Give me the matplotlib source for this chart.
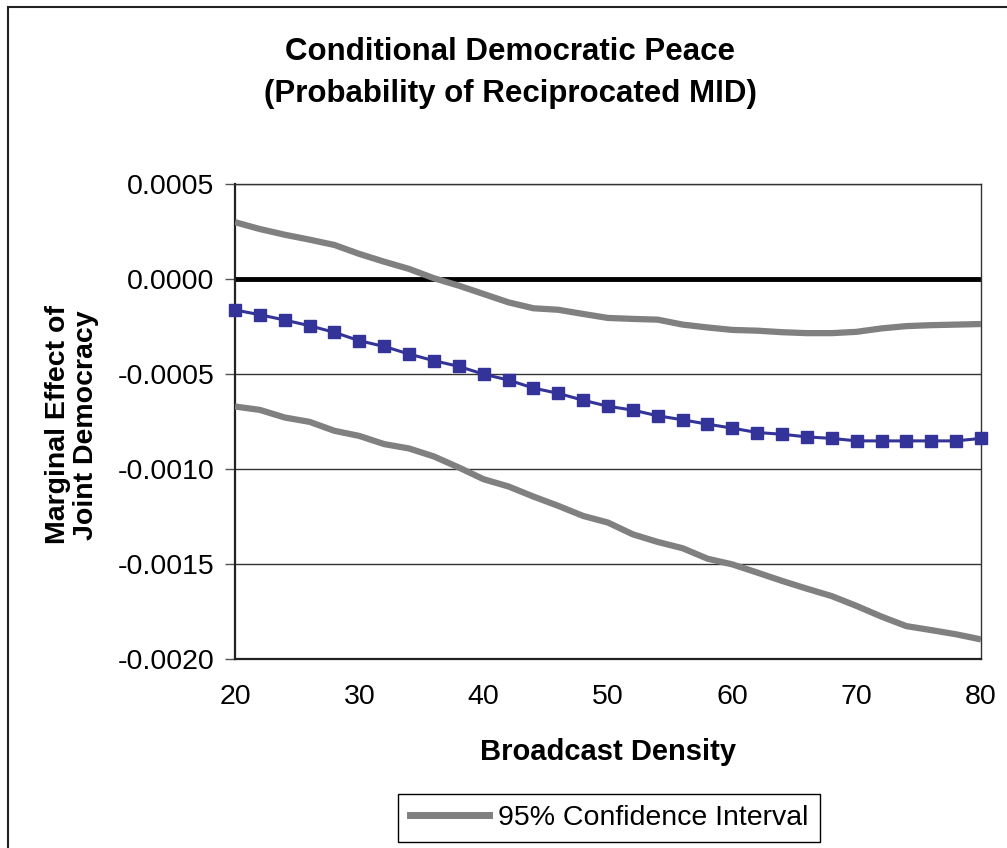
import matplotlib
matplotlib.use("Agg")
import matplotlib.pyplot as plt
import matplotlib.patches as mpatches
from matplotlib.lines import Line2D
from matplotlib.ticker import FormatStrFormatter

plt.rcParams["font.family"] = ["Liberation Sans", "DejaVu Sans"]

# ── Data ───────────────────────────────────────────────────────────────────────
density = list(range(20, 81, 2))

effect = [-0.000163, -0.000188, -0.000216, -0.000246, -0.000281, -0.000325,
          -0.000355, -0.000395, -0.000430, -0.000460, -0.000501, -0.000532,
          -0.000574, -0.000602, -0.000638, -0.000670, -0.000690, -0.000720,
          -0.000741, -0.000764, -0.000785, -0.000808, -0.000817, -0.000831,
          -0.000839, -0.000852, -0.000852, -0.000852, -0.000852, -0.000852,
          -0.000839]

upper = [0.000299, 0.000263, 0.000233, 0.000207, 0.000179, 0.000132,
         0.000091, 0.000053, 0.000004, -0.000035, -0.000079, -0.000123,
         -0.000154, -0.000162, -0.000184, -0.000205, -0.000210, -0.000214,
         -0.000240, -0.000255, -0.000268, -0.000272, -0.000280, -0.000285,
         -0.000285, -0.000278, -0.000260, -0.000248, -0.000243, -0.000240,
         -0.000237]

lower = [-0.000671, -0.000689, -0.000729, -0.000752, -0.000799, -0.000826,
         -0.000869, -0.000892, -0.000934, -0.000992, -0.001054, -0.001092,
         -0.001145, -0.001194, -0.001247, -0.001282, -0.001344, -0.001384,
         -0.001417, -0.001472, -0.001502, -0.001545, -0.001589, -0.001630,
         -0.001669, -0.001721, -0.001777, -0.001827, -0.001848, -0.001870,
         -0.001897]

x_ticks = [20, 30, 40, 50, 60, 70, 80]
y_ticks = [-0.0020, -0.0015, -0.0010, -0.0005, 0.0, 0.0005]

GRAY = "#808080"
BLUE = "#333399"

# ── Figure ─────────────────────────────────────────────────────────────────────
W, H = 1007, 848
fig = plt.figure(figsize=(W / 100, H / 100), dpi=100, facecolor="white")

# outer chart border (runs off right / bottom edges)
fig.patches.append(mpatches.Rectangle((8 / W, -0.1), 1.2, 1 - 7 / H + 0.1,
                                      transform=fig.transFigure, fill=False,
                                      edgecolor="#222222", linewidth=1.5))

ax = fig.add_axes([235 / W, 1 - 659 / H, (981 - 235) / W, (659 - 184) / H])

ax.plot(density, upper, color=GRAY, linewidth=4.5, solid_capstyle="butt", zorder=3)
ax.plot(density, lower, color=GRAY, linewidth=4.5, solid_capstyle="butt", zorder=3)
ax.axhline(0, color="black", linewidth=3.5, zorder=2)
ax.plot(density, effect, color=BLUE, linewidth=2.2, marker="s", markersize=9,
        markeredgecolor=BLUE, markerfacecolor=BLUE, zorder=4, clip_on=False)

ax.set_xlim(20, 80)
ax.set_ylim(-0.0020, 0.0005)
ax.set_xticks(x_ticks)
ax.set_yticks(y_ticks)
ax.yaxis.set_major_formatter(FormatStrFormatter("%.4f"))
ax.grid(axis="y", color="#333333", linewidth=1.0, zorder=1)

ax.tick_params(axis="y", direction="out", length=7, width=1, color="#555555",
               labelsize=20.5, pad=8)
ax.tick_params(axis="x", length=0, labelsize=20.5, pad=18)

for side in ["left", "bottom"]:
    ax.spines[side].set_color("#222222")
    ax.spines[side].set_linewidth(1.6)
for side in ["top", "right"]:
    ax.spines[side].set_color("#333333")
    ax.spines[side].set_linewidth(1.0)

# ── Text ───────────────────────────────────────────────────────────────────────
fig.text(510 / W, 1 - 73 / H,
         "Conditional Democratic Peace\n(Probability of Reciprocated MID)",
         ha="center", va="center", fontsize=22.5, fontweight="bold",
         linespacing=1.5)

ax.set_xlabel("Broadcast Density", fontsize=21, fontweight="bold", labelpad=20)

fig.text(72 / W, 1 - 425 / H, "Marginal Effect of\nJoint Democracy",
         rotation=90, ha="center", va="center", fontsize=20.5, fontweight="bold",
         multialignment="center", linespacing=1.1)

# ── Legend ─────────────────────────────────────────────────────────────────────
handle = Line2D([], [], color=GRAY, linewidth=5)
leg = fig.legend([handle], ["95% Confidence Interval"], loc="center",
                 bbox_to_anchor=(609 / W, 1 - 818 / H), fontsize=20.5,
                 frameon=True, fancybox=False, framealpha=1, edgecolor="black",
                 handlelength=2.8, handletextpad=0.3, borderpad=0.4,
                 borderaxespad=0)
leg.get_frame().set_linewidth(1.0)

fig.savefig("out.png", dpi=100, facecolor="white")
